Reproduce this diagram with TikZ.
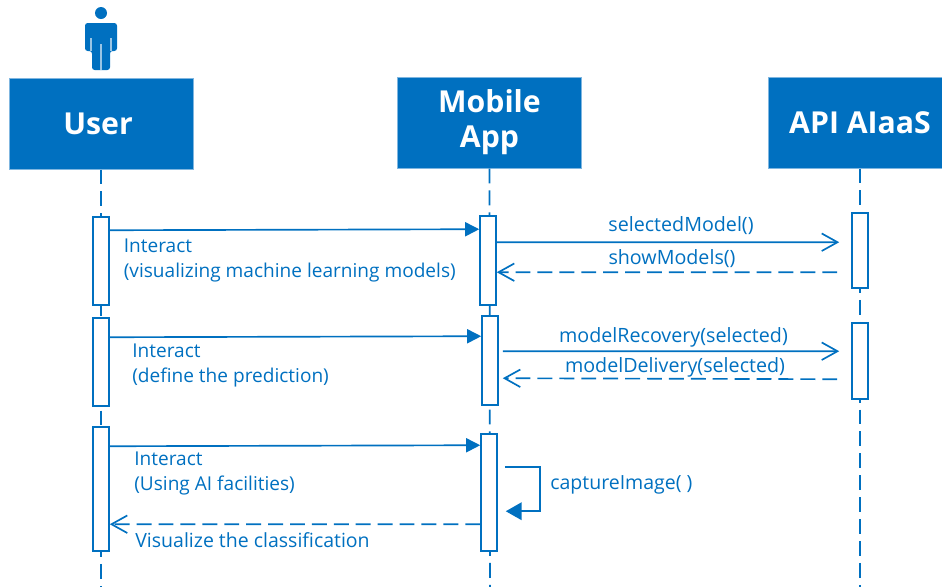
\documentclass[tikz,border=0pt]{standalone}
\usepackage{fontspec}
\setmainfont{Open Sans}
\usepackage{xcolor}
\usetikzlibrary{arrows.meta}
\definecolor{umlblue}{HTML}{0070C0}
\definecolor{umledge}{HTML}{7FB6E0}
\tikzset{
    head/.style={rectangle,fill=umlblue,draw=umledge,line width=.5pt,text=white,
        minimum width=3.68cm,minimum height=1.82cm,align=center,inner sep=0pt,
        font=\fontsize{17.2}{19.8}\selectfont\bfseries},
    bar/.style={rectangle,fill=white,draw=umlblue,line width=.9pt,minimum width=.32cm,inner sep=0pt},
    life/.style={draw=umlblue,line width=.95pt,dash pattern=on 8.5pt off 3.97pt},
    msg/.style={draw=umlblue,line width=.95pt,-{Triangle[length=8pt,width=8pt]}},
    call/.style={draw=umlblue,line width=.95pt,-{Straight Barb[length=9pt,width=10pt]}},
    back/.style={draw=umlblue,line width=.95pt,dash pattern=on 8.5pt off 3.97pt,-{Straight Barb[length=9pt,width=10pt]}},
    lbl/.style={text=umlblue,align=left,anchor=west,inner sep=0pt,
        font=\fontsize{10.85}{14.2}\selectfont},
    mid/.style={text=umlblue,anchor=center,inner sep=0pt,font=\fontsize{11.2}{14.2}\selectfont}
}
\begin{document}
\begin{tikzpicture}[x=.02cm,y=-.02cm]
    \clip (0,0) rectangle (942,586);

    % actor
    \fill[umlblue] (101,13) circle (6);
    \fill[umlblue,rounded corners=1.5pt] (85,51) -- (85,23) -- (117,23) -- (117,51) -- (110,51)
        -- (110,70) -- (92,70) -- (92,51) -- cycle;
    \draw[white,opacity=.6,line width=.6pt] (91,38) -- (91,51) (111,38) -- (111,51) (101,44) -- (101,70);

    % heads
    \node[head] (user) at (101,123.5) {User\hspace{.12cm}};
    \node[head] (app) at (489.5,122.5) {Mobile\\App};
    \node[head] (api) at (860,122.5) {API AIaaS};

    \coordinate (user-end) at (101,590);
    \coordinate (app-end) at (490,590);
    \coordinate (api-end) at (860,590);
    \foreach \from/\to in {user/user-end, app/app-end, api/api-end}
    \draw[life] (\from) ++(0,46) -- (\to);

    % activations
    \node[bar,minimum height=1.76cm] (user1) at (101,261) {};
    \node[bar,minimum height=1.76cm] (user2) at (101,362) {};
    \node[bar,minimum height=2.48cm] (user3) at (101,489) {};
    \node[bar,minimum height=1.78cm] (app1) at (488,260.5) {};
    \node[bar,minimum height=1.78cm] (app2) at (490,360.5) {};
    \node[bar,minimum height=2.34cm] (app3) at (489,492.5) {};
    \node[bar,minimum height=1.50cm] (api1) at (860,250.5) {};
    \node[bar,minimum height=1.52cm] (api2) at (860,361) {};

    % messages
    \foreach \from/\fy/\to/\ty in {user1/14/app1/14, user2/20/app2/21, user3/20/app3/12}
    \draw[msg] ([yshift=-\fy*.02cm]\from.north east) -- ([yshift=-\ty*.02cm]\to.north west);

    \draw[call] ([yshift=-27*.02cm]app1.north east) -- ([shift={(-12,30)}]api1.north west);
    \draw[back] ([shift={(-14,60)}]api1.north west) -- ([yshift=-57*.02cm]app1.north east);
    \draw[call] ([shift={(4,36)}]app2.north east) -- ([shift={(-12,29)}]api2.north west);
    \draw[back] ([shift={(-14,57)}]api2.north west) -- ([shift={(4,63)}]app2.north east);
    \draw[back] ([yshift=-91*.02cm]app3.north west) -- ([yshift=-98*.02cm]user3.north east);

    % self call
    \draw[msg,-{Triangle[length=9pt,width=10pt]}] ([shift={(7,34)}]app3.north east) -| ([shift={(42,78)}]app3.north east)
        -- ([shift={(8,78)}]app3.north east);

    % labels
    \node[lbl] (t-user1) at (123.5,260) {Interact\\(visualizing machine learning models)};
    \node[lbl] (t-user2) at (132,365) {Interact\\(define the prediction)};
    \node[lbl] (t-user3) at (134,473) {Interact\\(Using AI facilities)};
    \node[lbl,font=\fontsize{11.1}{14.2}\selectfont] (t-back) at (135,540) {Visualize the classification};
    \node[lbl,font=\fontsize{11.1}{14.2}\selectfont] (t-self) at (550,485) {captureImage( )};
    \node[mid] (t-sel) at (681,226) {selectedModel()};
    \node[mid] (t-show) at (672,259) {showModels()};
    \node[mid] (t-rec) at (673.5,337) {modelRecovery(selected)};
    \node[mid] (t-del) at (675,367) {modelDelivery(selected)};
\end{tikzpicture}
\end{document}
